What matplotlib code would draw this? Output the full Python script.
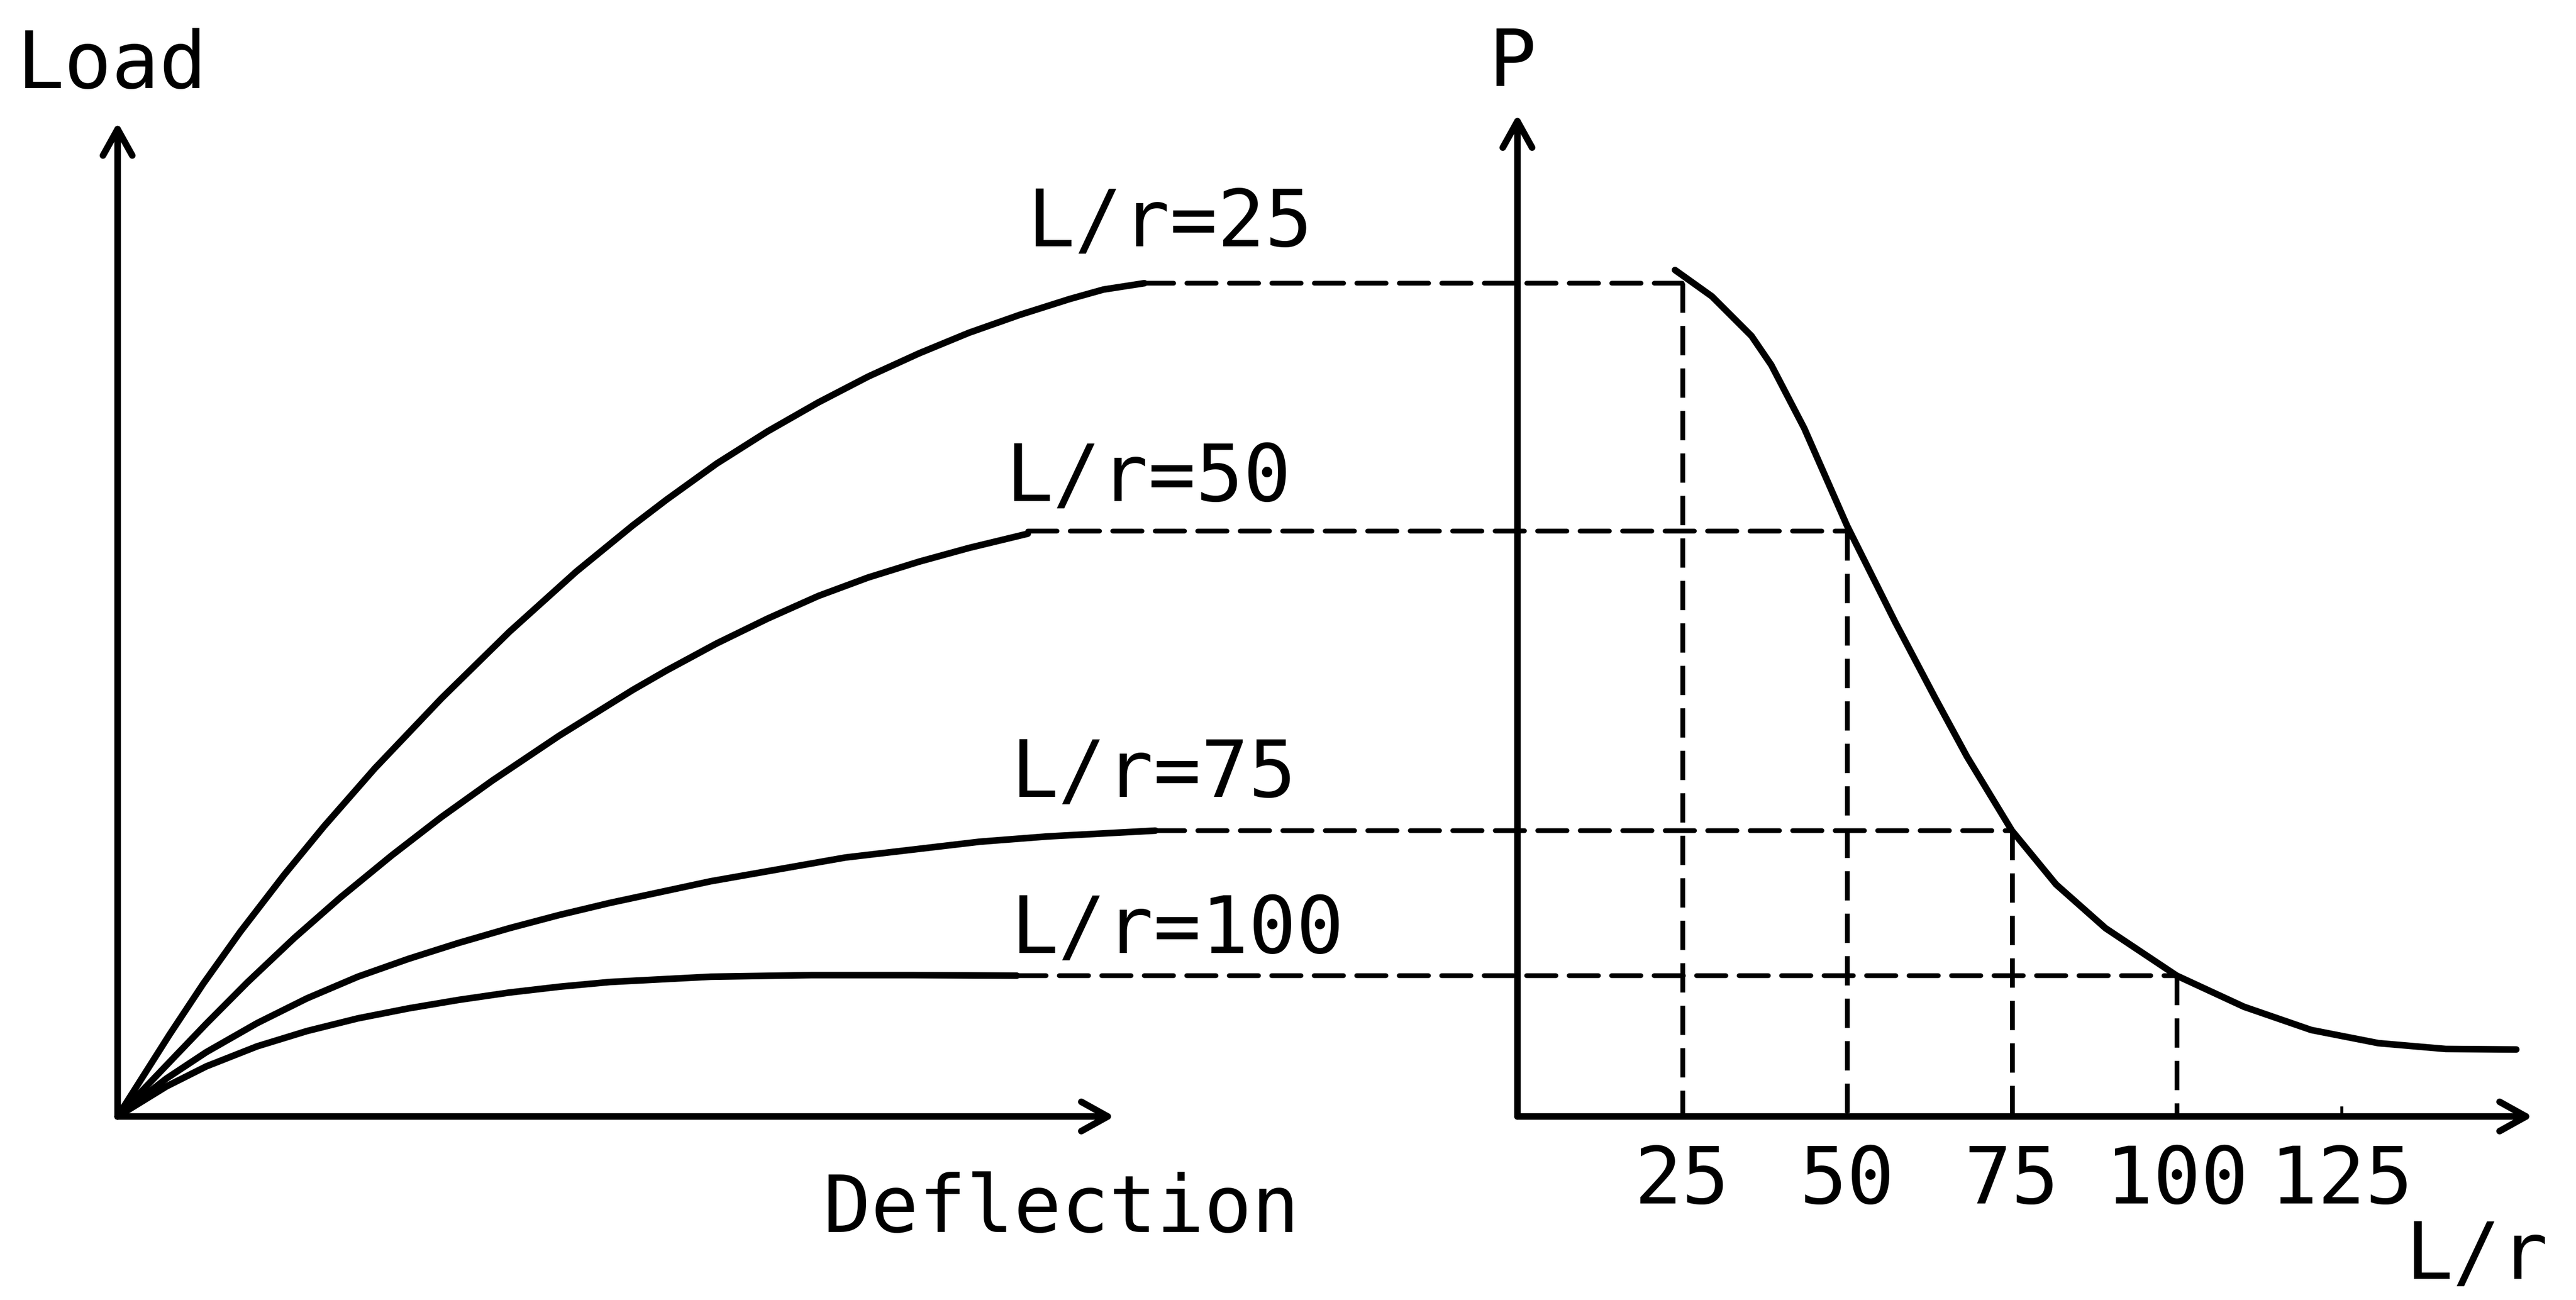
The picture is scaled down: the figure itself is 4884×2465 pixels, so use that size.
import numpy as np
import matplotlib
matplotlib.use('Agg')
import matplotlib.pyplot as plt
from matplotlib.patches import ConnectionPatch

plt.rcParams['lines.scale_dashes'] = False

W, H = 4884, 2465

# load / deflection curves, one per slenderness ratio
slenderness = [25, 50, 75, 100]
defl_25 = [0, 0.52, 0.86, 1.23, 1.67, 2.07, 2.58, 3.25, 3.93, 4.60, 5.17, 5.51, 6.01,
           6.52, 7.03, 7.53, 8.04, 8.54, 9.05, 9.55, 9.89, 10.3]
load_25 = [0, 1.55, 2.52, 3.50, 4.58, 5.50, 6.60, 7.93, 9.19, 10.33, 11.21, 11.70, 12.38,
           12.99, 13.54, 14.03, 14.47, 14.86, 15.20, 15.50, 15.68, 15.80]
defl_50 = [0, 0.52, 0.89, 1.30, 1.77, 2.24, 2.75, 3.25, 3.76, 4.43, 5.17, 5.51, 6.01,
           6.52, 7.03, 7.53, 8.04, 8.54, 9.13]
load_50 = [0, 1.03, 1.76, 2.54, 3.38, 4.16, 4.95, 5.68, 6.37, 7.22, 8.09, 8.46, 8.97,
           9.44, 9.87, 10.22, 10.52, 10.78, 11.05]
defl_75 = [0, 0.49, 0.89, 1.40, 1.90, 2.41, 2.92, 3.42, 3.93, 4.43, 4.94, 5.95, 7.30,
           8.65, 9.33, 10.41]
load_75 = [0, 0.72, 1.22, 1.77, 2.24, 2.65, 2.99, 3.29, 3.57, 3.82, 4.05, 4.46, 4.91,
           5.21, 5.31, 5.42]
defl_100 = [0, 0.49, 0.89, 1.40, 1.90, 2.41, 2.92, 3.42, 3.93, 4.43, 4.94, 5.95, 6.96,
            7.98, 9.02]
load_100 = [0, 0.57, 0.95, 1.33, 1.62, 1.86, 2.05, 2.21, 2.35, 2.46, 2.55, 2.65, 2.68,
            2.68, 2.67]
curve_labels = ['L/r=25', 'L/r=50', 'L/r=75', 'L/r=100']

# failure load against L/r
lr_curve = [23.9, 29.5, 35.5, 38.5, 43.5, 50, 54.4, 57.4, 63.3, 68.2, 75,
            81.7, 89.2, 100, 110.2, 120.4, 130.6, 140.8, 151.5]
p_curve = [16.05, 15.55, 14.8, 14.25, 13.05, 11.2, 10.1, 9.35, 7.95, 6.82, 5.42,
           4.40, 3.57, 2.67, 2.08, 1.64, 1.39, 1.28, 1.27]
peak_load = [15.80, 11.1, 5.42, 2.67]
lr_ticks = [25, 50, 75, 100, 125]
lr_ticklabels = ['25', '50', '75', '100', '125']

FONT = 'DejaVu Sans Mono'
FS = 108
LW = 9
DASH = (0, (40, 18))


def px(x, y):
    return x / W, 1 - y / H


fig = plt.figure(figsize=(W / 100, H / 100), dpi=100)
fig.patch.set_facecolor('white')

bottom = 2117
ax1 = fig.add_axes([223 / W, (H - bottom) / H, 10.5 * 189 / W, 1920 / H])
ax2 = fig.add_axes([2877 / W, (H - bottom) / H, 156 * 12.5 / W, 1920 / H])
for ax in (ax1, ax2):
    ax.set_ylim(0, 19.2)
    ax.set_facecolor('none')
    for s in ax.spines.values():
        s.set_visible(False)
ax1.set_xlim(0, 10.5)
ax2.set_xlim(0, 156)
ax1.set_xticks([])
ax1.set_yticks([])
ax2.set_yticks([])

arrow = dict(arrowstyle='->, head_length=0.45, head_width=0.25', lw=9,
             color='black', shrinkA=0, shrinkB=0, mutation_scale=80)
ax1.annotate('', xy=(10.0, 0), xytext=(0, 0), arrowprops=arrow, annotation_clip=False)
ax1.annotate('', xy=(0, 18.85), xytext=(0, 0), arrowprops=arrow, annotation_clip=False)
ax2.annotate('', xy=(154, 0), xytext=(0, 0), arrowprops=arrow, annotation_clip=False)
ax2.annotate('', xy=(0, 19.0), xytext=(0, 0), arrowprops=arrow, annotation_clip=False)

curves = [(defl_25, load_25), (defl_50, load_50), (defl_75, load_75), (defl_100, load_100)]
for d, l in curves:
    ax1.plot(d, l, color='black', lw=LW, solid_capstyle='round',
             solid_joinstyle='round', clip_on=False)

ax2.plot(lr_curve, p_curve, color='black', lw=LW, solid_capstyle='round',
         solid_joinstyle='round', clip_on=False)

# projection lines from each curve's peak to the P - L/r curve
for (d, l), lr, p in zip(curves, slenderness, peak_load):
    con = ConnectionPatch(xyA=(d[-1], p), coordsA=ax1.transData,
                          xyB=(lr, p), coordsB=ax2.transData,
                          color='black', lw=6.5, linestyle=DASH)
    fig.add_artist(con)
    ax2.plot([lr, lr], [p, 0], color='black', lw=6.5, linestyle=DASH, clip_on=False)

ax2.set_xticks(lr_ticks)
ax2.set_xticklabels(lr_ticklabels, family=FONT, fontsize=FS)
ax2.tick_params(axis='x', direction='in', length=14, width=4, pad=36, color='black')

# curve labels
label_pos = [(1947, 467), (1906, 950), (1916, 1511), (1916, 1807)]
for txt, (x, y) in zip(curve_labels, label_pos):
    fig.text(*px(x, y), txt, family=FONT, fontsize=FS, ha='left', va='baseline')

fig.text(*px(31, 167), 'Load', family=FONT, fontsize=FS, ha='left', va='baseline')
fig.text(*px(2868, 163), 'P', family=FONT, fontsize=FS, ha='center', va='baseline')
fig.text(*px(2012, 2336), 'Deflection', family=FONT, fontsize=FS, ha='center', va='baseline')
fig.text(*px(4560, 2425), 'L/r', family=FONT, fontsize=FS, ha='left', va='baseline')

fig.savefig('out.png', dpi=100, facecolor='white')
